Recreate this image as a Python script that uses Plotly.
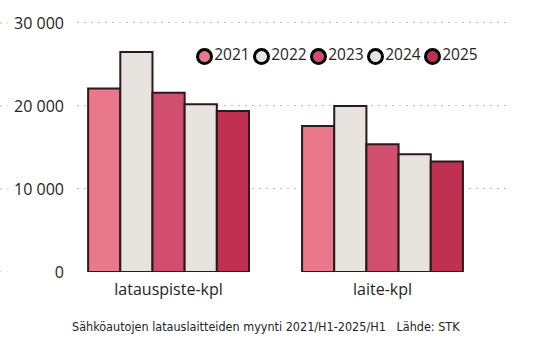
import plotly.graph_objects as go

categories = ["latauspiste-kpl", "laite-kpl"]
years = ["2021", "2022", "2023", "2024", "2025"]
values = {
    "2021": [22100, 17600],
    "2022": [26500, 20000],
    "2023": [21600, 15400],
    "2024": [20200, 14200],
    "2025": [19400, 13300],
}
colors = {
    "2021": "#E8788A",
    "2022": "#E7E3DF",
    "2023": "#D24E6E",
    "2024": "#E7E3DF",
    "2025": "#C03050",
}
y_ticks = [0, 10000, 20000, 30000]
title_text = "Sähköautojen latauslaitteiden myynti 2021/H1-2025/H1   Lähde: STK"

W, H = 545, 352
ML, MR, MT, MB = 77, 35, 18, 80
plot_w = W - ML - MR
plot_h = H - MT - MB
px_per_unit = 84 / 10000
y_top = plot_h / px_per_unit
grid_color = "#BDBDBD"
grid_dash = "2px,5px"

fig = go.Figure()
for yr in years:
    fig.add_trace(go.Bar(
        x=categories, y=values[yr], name=yr,
        marker=dict(color=colors[yr], line=dict(color="#2A1A1C", width=2)),
        showlegend=False, xaxis="x", yaxis="y",
    ))

# legend row: one key per year, placed by a categorical helper axis
fig.add_trace(go.Scatter(
    x=years, y=[0] * len(years), mode="markers+text",
    text=years, textposition="middle right",
    textfont=dict(size=15.5, color="#252423", family="Open Sans"),
    marker=dict(symbol="circle", size=14, color=[colors[y] for y in years],
                line=dict(color="#000000", width=3)),
    showlegend=False, hoverinfo="skip", cliponaxis=False,
    xaxis="x2", yaxis="y2",
))

# left stub of dotted gridlines (outside the plot area, left of tick labels)
for t in y_ticks:
    fig.add_shape(type="line", xref="paper", yref="y",
                  x0=-ML / plot_w, x1=-(ML - 8) / plot_w, y0=t, y1=t,
                  line=dict(color=grid_color, width=1, dash=grid_dash), layer="below")

leg_left, leg_step, leg_y = 176, 57, 54
fig.update_layout(
    width=W, height=H,
    margin=dict(l=ML, r=MR, t=MT, b=MB),
    paper_bgcolor="white", plot_bgcolor="rgba(0,0,0,0)",
    barmode="group", bargap=0.248, bargroupgap=0,
    separators=", ",
    showlegend=False,
    font=dict(family="Open Sans", size=16, color="#252423"),
    xaxis=dict(range=[-0.428, 1.596], showgrid=False, zeroline=False,
               showline=False, ticks="", ticklabelstandoff=6,
               tickfont=dict(size=16, color="#252423"), fixedrange=True),
    yaxis=dict(range=[0, y_top], tickvals=y_ticks, tickformat=",d",
               showgrid=True, gridcolor=grid_color, griddash=grid_dash, gridwidth=1,
               zeroline=False, showline=False, ticks="",
               ticklabelstandoff=12, tickfont=dict(size=16, color="#252423"),
               fixedrange=True),
    xaxis2=dict(domain=[(leg_left - ML) / plot_w,
                        (leg_left + leg_step * len(years) - ML) / plot_w],
                range=[-0.5, len(years) - 0.5], type="category",
                visible=False, anchor="y2", fixedrange=True),
    yaxis2=dict(domain=[(H - MB - leg_y - 6) / plot_h, (H - MB - leg_y + 6) / plot_h],
                range=[-1, 1], visible=False, anchor="x2", fixedrange=True),
    annotations=[dict(text=title_text, xref="paper", yref="paper",
                      x=(265.5 - ML) / plot_w, y=-(327 - (H - MB)) / plot_h,
                      xanchor="center", yanchor="middle", showarrow=False,
                      font=dict(family="DejaVu Sans Condensed, Liberation Sans Narrow, sans-serif",
                                size=12.5, color="#252423"))],
)

fig.write_html("out.html")
